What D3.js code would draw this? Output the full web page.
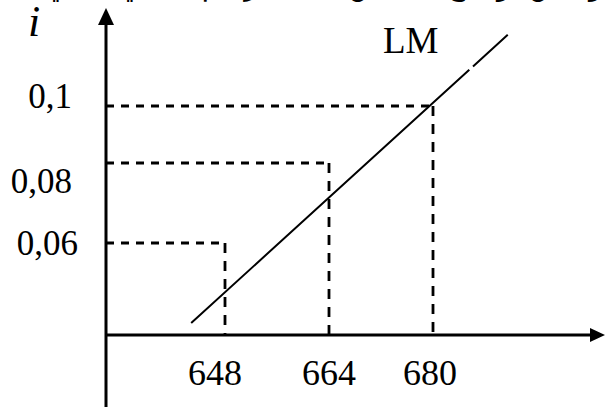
<!DOCTYPE html>
<html>
<head>
<meta charset="utf-8">
<script src="https://cdn.jsdelivr.net/npm/d3@7/dist/d3.min.js"></script>
<style>
  html, body { margin: 0; padding: 0; background: #fff; }
  svg { display: block; }
  text { font-family: "Liberation Serif", "Times New Roman", serif; fill: #000; }
</style>
</head>
<body>
<svg id="chart" width="605" height="407"></svg>
<script>
// Income levels (Y) and interest rates (i) marked on the LM curve
const incomeTicks = [648, 664, 680];
const rateTicks = [0.06, 0.08, 0.1];
const rateLabels = ["0,06", "0,08", "0,1"];
const incomeLabels = ["648", "664", "680"];
// End points of the LM curve: [Y, i]
const lmCurve = [[642.8, 0.04], [691.5, 0.125]];

const svg = d3.select("#chart");
const W = 605, H = 407;
const originX = 106, originY = 335;

const x = d3.scaleLinear().domain([648, 680]).range([225, 433]);
const y = d3.scaleLinear().domain([0.06, 0.08, 0.1]).range([243, 163, 106]);

svg.append("rect").attr("width", W).attr("height", H).attr("fill", "#fff");

// Caption line running off the top edge
svg.append("text")
  .attr("x", 612).attr("y", -5)
  .attr("text-anchor", "end")
  .style("font-family", "'DejaVu Sans', 'Noto Sans', sans-serif")
  .style("font-size", "28px")
  .text("ويمكن توضيح ذلك من خلال الرسم البياني التالي:");

// Dashed guides from each (Y, i) pair to the axes
const pairs = incomeTicks.map((v, k) => ({ Y: v, i: rateTicks[k] }));
const guides = svg.append("g").attr("stroke", "#000").attr("stroke-width", 2.8).attr("fill", "none");
guides.selectAll("line.h").data(pairs).join("line")
  .attr("class", "h")
  .attr("x1", originX).attr("x2", d => x(d.Y))
  .attr("y1", d => y(d.i)).attr("y2", d => y(d.i))
  .attr("stroke-dasharray", "8,7");
guides.selectAll("line.v").data(pairs).join("line")
  .attr("class", "v")
  .attr("x1", d => x(d.Y)).attr("x2", d => x(d.Y))
  .attr("y1", d => y(d.i)).attr("y2", originY)
  .attr("stroke-dasharray", "10,8");

// LM curve, with the small break near its upper end
const lmLine = d3.line().x(d => x(d[0])).y(d => y(d[1]));
const lmPath = svg.append("path")
  .datum(lmCurve)
  .attr("d", lmLine)
  .attr("fill", "none")
  .attr("stroke", "#000")
  .attr("stroke-width", 2);
const len = lmPath.node().getTotalLength();
lmPath.attr("stroke-dasharray", `${len - 52},5,${len}`);

// Axes with arrowheads
const axes = svg.append("g").attr("stroke", "#000").attr("stroke-width", 3);
axes.append("line").attr("x1", originX).attr("x2", originX).attr("y1", 22).attr("y2", H);
axes.append("line").attr("x1", originX).attr("x2", 592).attr("y1", originY).attr("y2", originY);
svg.append("path")
  .attr("d", `M${originX},8 L${originX - 8},25 L${originX + 8},25 Z`)
  .attr("fill", "#000");
svg.append("path")
  .attr("d", `M605,${originY} L590,${originY - 7} L590,${originY + 7} Z`)
  .attr("fill", "#000");

// Rate labels on the vertical axis
const rateNudge = [[78, 12], [72, 30], [72, 2]];
svg.selectAll("text.rate").data(rateTicks).join("text")
  .attr("class", "rate")
  .attr("x", (d, k) => rateNudge[k][0])
  .attr("y", (d, k) => y(d) + rateNudge[k][1])
  .attr("text-anchor", "end")
  .style("font-size", "35px")
  .text((d, k) => rateLabels[k]);

// Income labels under the horizontal axis
const incomeNudge = [-10, 0, -3];
svg.selectAll("text.income").data(incomeTicks).join("text")
  .attr("class", "income")
  .attr("x", (d, k) => x(d) + incomeNudge[k])
  .attr("y", 385)
  .attr("text-anchor", "middle")
  .style("font-size", "36px")
  .text((d, k) => incomeLabels[k]);

// Axis and curve names
svg.append("text")
  .attr("x", 28).attr("y", 36)
  .style("font-size", "44px").style("font-style", "italic")
  .text("i");
svg.append("text")
  .attr("x", 383).attr("y", 53)
  .style("font-size", "37px")
  .text("LM");
</script>
</body>
</html>
